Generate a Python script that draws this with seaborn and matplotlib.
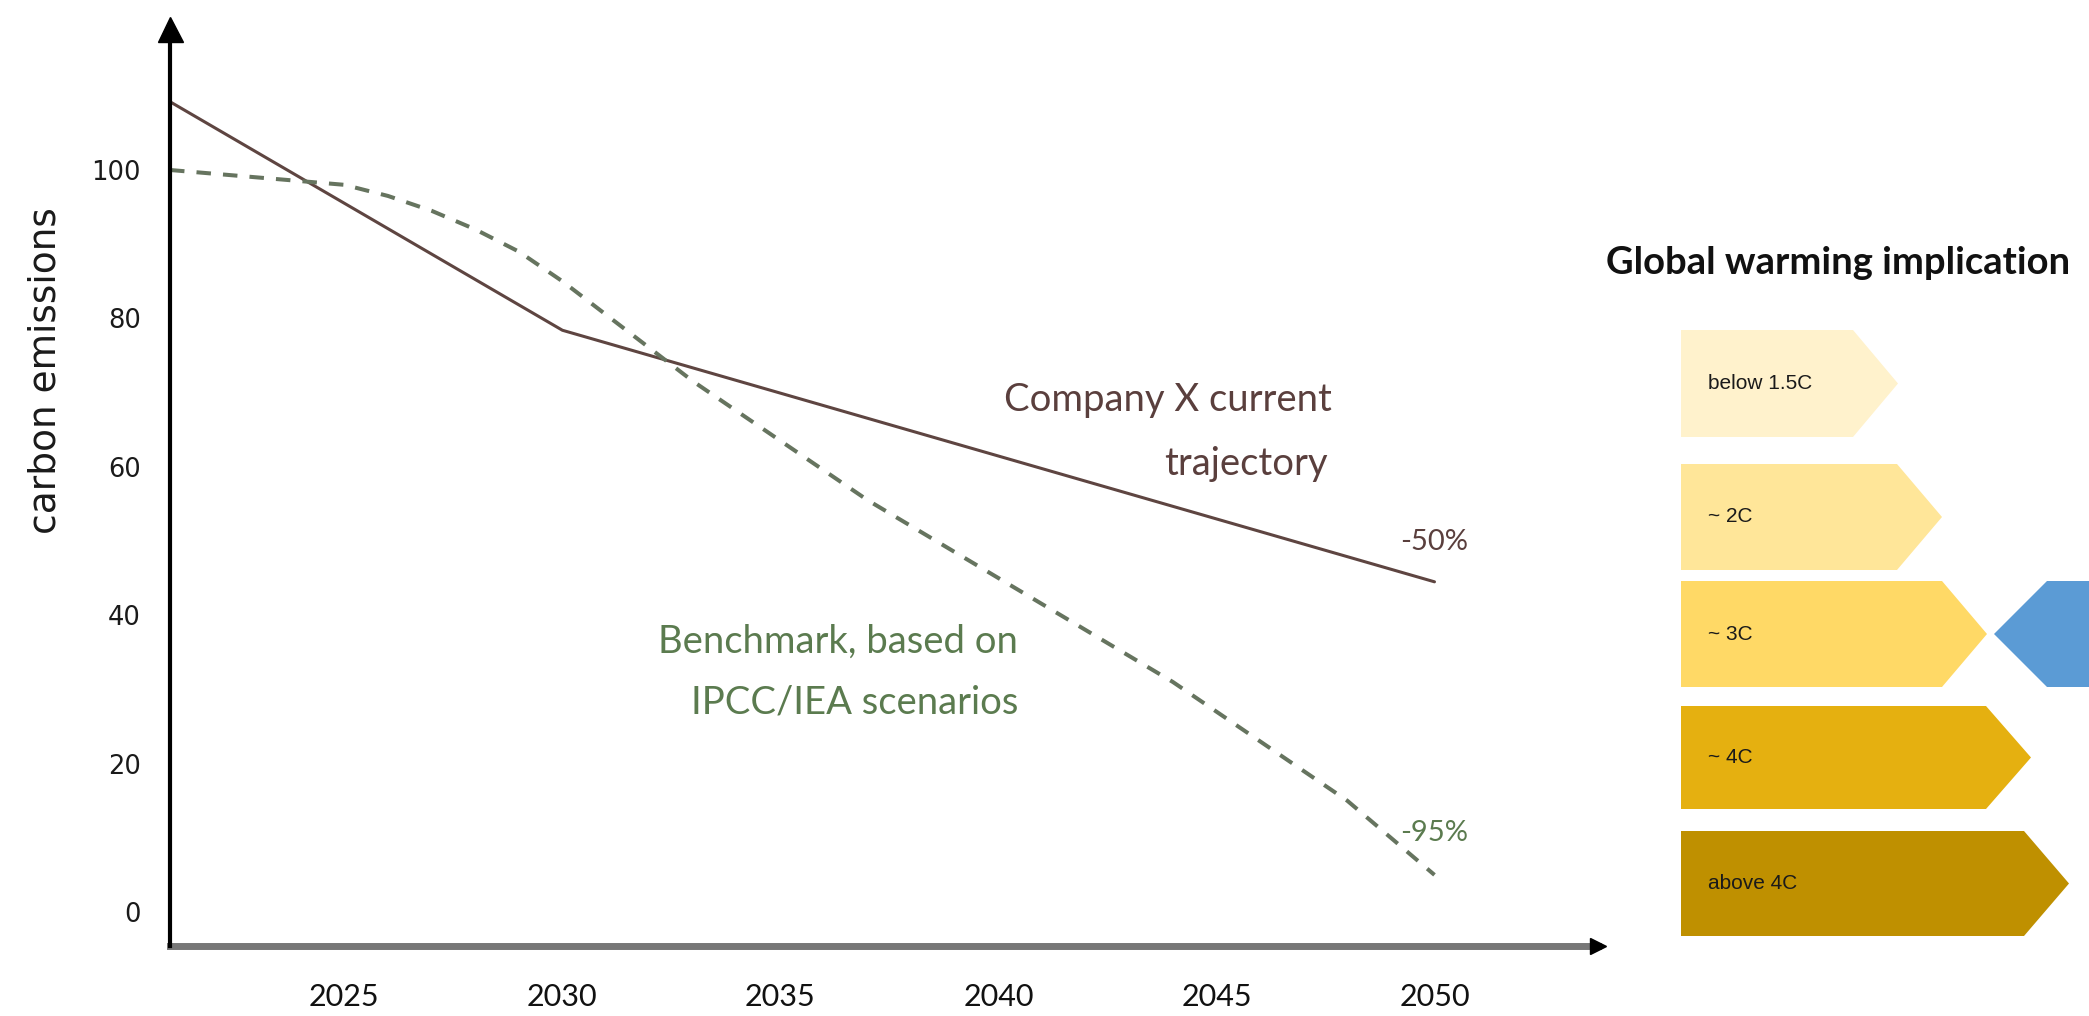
import matplotlib
matplotlib.use("Agg")
import matplotlib.pyplot as plt
import seaborn as sns
import pandas as pd
from matplotlib.patches import Polygon

# ---------------- data ----------------
company_years = [2021, 2030, 2050]
company_emissions = [109.2, 78.4, 44.5]

benchmark_years = list(range(2021, 2051))
benchmark_emissions = [100, 99.5, 99, 98.5, 98, 96.5, 94.5, 92, 89, 85,
                       80.5, 76, 71.5, 67.5, 63.5, 59.5, 55.5, 52, 48.5, 45,
                       41.5, 38, 34.5, 31, 27, 23, 19, 15, 10, 5]

x_ticks = [2025, 2030, 2035, 2040, 2045, 2050]
y_ticks = [0, 20, 40, 60, 80, 100]

warming_labels = ["below 1.5C", "~ 2C", "~ 3C", "~ 4C", "above 4C"]
company_band = "~ 3C"

# ---------------- style ----------------
sns.set_theme(style="white")
plt.rcParams["font.family"] = ["DejaVu Sans"]
NARROW = ["Lato", "DejaVu Sans"]

W, H = 2089, 1016
fig = plt.figure(figsize=(W / 100, H / 100), dpi=100)
fig.patch.set_facecolor("white")

def px_ax(l, t, r, b):
    return [l / W, 1 - b / H, (r - l) / W, (b - t) / H]

ax = fig.add_axes(px_ax(170, 29, 1598, 946))
ax.set_facecolor("white")

df_c = pd.DataFrame({"year": company_years, "emissions": company_emissions})
df_b = pd.DataFrame({"year": benchmark_years, "emissions": benchmark_emissions})

sns.lineplot(data=df_c, x="year", y="emissions", ax=ax, color="#5e4541",
             linewidth=2.2, solid_joinstyle="round")
sns.lineplot(data=df_b, x="year", y="emissions", ax=ax, color="#66745f",
             linewidth=2.9, linestyle=(0, (3.6, 3.0)))

ax.set_xlim(2021, 2053.75)
ax.set_ylim(-4.58, 119.0)
ax.set_xticks(x_ticks)
ax.set_yticks(y_ticks)
ax.set_xticklabels([str(v) for v in x_ticks], family=NARROW, fontsize=22,
                   color="#111111")
ax.set_yticklabels([str(v) for v in y_ticks], fontsize=18.5, color="#1a1a1a")
ax.tick_params(axis="x", length=0, pad=27)
ax.tick_params(axis="y", length=0, pad=21)
ax.set_xlabel("")
ax.set_ylabel("carbon emissions", fontsize=27, color="#1a1a1a")
ax.yaxis.set_label_coords(-0.0745, 0.628)

for s in ["top", "right"]:
    ax.spines[s].set_visible(False)
ax.spines["left"].set_color("#000000")
ax.spines["left"].set_linewidth(3)
ax.spines["bottom"].set_color("#777777")
ax.spines["bottom"].set_linewidth(5)
ax.spines["left"].set_zorder(5)

ax.plot(0, 1, marker="^", ms=18, color="black", transform=ax.transAxes,
        clip_on=False, zorder=6)
ax.plot(1, 0, marker=">", ms=12, color="black", transform=ax.transAxes,
        clip_on=False, zorder=6)

# annotations
brown = "#5a3f3d"
green = "#5b7b4f"
ax.text(2047.65, 69.0, "Company X current", family=NARROW, fontsize=27.5,
        color=brown, ha="right", va="center")
ax.text(2047.55, 60.4, "trajectory", family=NARROW, fontsize=27.5,
        color=brown, ha="right", va="center")
ax.text(2040.45, 36.4, "Benchmark, based on", family=NARROW, fontsize=27.5,
        color=green, ha="right", va="center")
ax.text(2040.45, 28.2, "IPCC/IEA scenarios", family=NARROW, fontsize=27.5,
        color=green, ha="right", va="center")
ax.text(2050.0, 49.9, "-50%", family=NARROW, fontsize=21, color=brown,
        ha="center", va="center")
ax.text(2050.0, 10.6, "-95%", family=NARROW, fontsize=21, color=green,
        ha="center", va="center")

# ---------------- right panel: warming implication ----------------
lg = fig.add_axes([0, 0, 1, 1], facecolor="none")
lg.set_xlim(0, W)
lg.set_ylim(H, 0)
lg.axis("off")

lg.text(1838, 263, "Global warming implication", family=["Lato", "DejaVu Sans"],
        fontweight="bold", fontsize=27.5, color="#111111", ha="center",
        va="center")

band_colors = ["#FFF2CC", "#FFE699", "#FFD966", "#E5B010", "#BF9000"]
band_tops = [330, 464, 581, 706, 831]
band_bottoms = [437, 570, 687, 809, 936]
band_tips = [1898, 1942, 1987, 2031, 2069]
left = 1681
depth = 45
for lab, col, t, b, tip in zip(warming_labels, band_colors, band_tops,
                               band_bottoms, band_tips):
    mid = (t + b) / 2
    poly = Polygon([(left, t), (tip - depth, t), (tip, mid), (tip - depth, b),
                    (left, b)], closed=True, facecolor=col, edgecolor="none")
    lg.add_patch(poly)
    lg.text(left + 27, mid, lab, family=["Liberation Sans", "DejaVu Sans"],
            fontsize=15, color="#1a1a1a", ha="left", va="center")
    if lab == company_band:
        btip = 1994
        blue = Polygon([(btip, mid), (btip + 53, t), (W + 5, t), (W + 5, b),
                        (btip + 53, b)], closed=True, facecolor="#5B9BD5",
                       edgecolor="none")
        lg.add_patch(blue)

fig.savefig("out.png", dpi=100, facecolor="white")
